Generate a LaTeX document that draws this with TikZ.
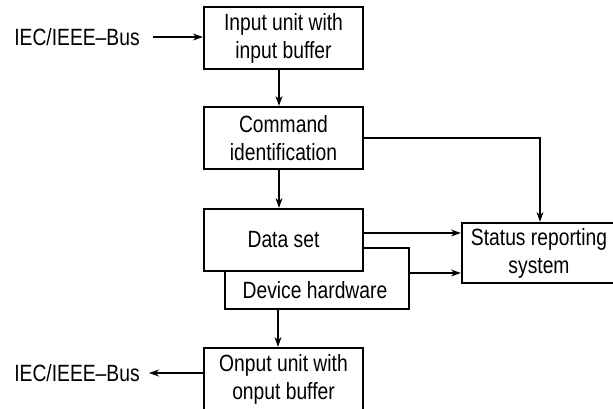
\documentclass[tikz,border=0pt]{standalone}
\usepackage{fontspec}
\setmainfont{Liberation Sans}[FakeStretch=0.82]
\usetikzlibrary{arrows.meta}
\begin{document}
\begin{tikzpicture}[x=1pt,y=-1pt,
  every node/.style={font=\fontsize{23.5}{28}\selectfont, align=center, inner sep=0pt},
  box/.style={draw, line width=2.2pt, fill=white, minimum width=159pt, minimum height=62pt},
  conn/.style={line width=1.1pt, -{Stealth[length=10pt,width=7pt]}},
  plain/.style={line width=1.1pt}]
\useasboundingbox (0,0) rectangle (613,408);
\node[box] (in) at (283.5,38) {Input unit with\\input buffer};
\node[box] (cmd) at (283.5,138) {Command\\identification};
\node[box, minimum width=184pt, minimum height=61pt] (dev) at (317,278.5) {};
\node (devtxt) at (315,290) {Device hardware};
\node[box] (data) at (283.5,240) {Data set};
\node[box, minimum width=154pt, minimum height=60pt] (stat) at (539,253) {Status reporting\\system};
\node[box] (out) at (283.5,379) {Onput unit with\\onput buffer};
\node (busin) at (77,37) {IEC/IEEE–Bus};
\node (busout) at (77,373) {IEC/IEEE–Bus};
\coordinate (inarr) at (153,37);
\coordinate (outarr) at (149,373);
\draw[conn] (inarr) -- (inarr -| in.west);
\draw[conn] ([xshift=-4.5pt]in.south) -- ([xshift=-4.5pt]cmd.north);
\draw[conn] ([xshift=-4.5pt]cmd.south) -- ([xshift=-4.5pt]data.north);
\draw[conn] ([xshift=-5.5pt]dev.south -| data.south) -- ([xshift=-5.5pt]out.north);
\coordinate (cmdr) at (cmd.east);
\draw[conn] (cmdr) -| ([xshift=1pt]stat.north);
\draw[conn] ([yshift=7pt]data.east) -- ([yshift=7pt]data.east -| stat.west);
\draw[conn] ([yshift=5.5pt]dev.east) -- ([yshift=5.5pt]dev.east -| stat.west);
\draw[conn] (out.west |- outarr) -- (outarr);
\end{tikzpicture}
\end{document}
